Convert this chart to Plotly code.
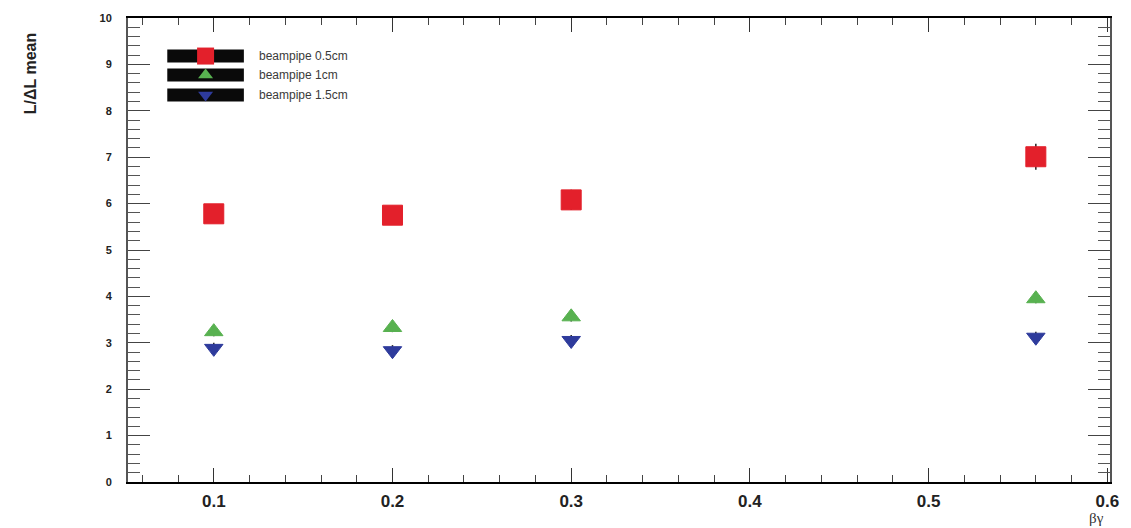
import plotly.graph_objects as go

# Beam-gamma values and L/dL means for the three beampipe radii
bg = [0.1, 0.2, 0.3, 0.56]
mean_05cm = [5.78, 5.75, 6.08, 7.01]
err_05cm = [0.2, 0.2, 0.22, 0.28]
mean_1cm = [3.24, 3.33, 3.56, 3.95]
err_1cm = [0.1, 0.1, 0.1, 0.1]
mean_15cm = [2.88, 2.83, 3.05, 3.12]
err_15cm = [0.12, 0.12, 0.12, 0.12]

series_names = ["beampipe 0.5cm", "beampipe 1cm", "beampipe 1.5cm"]
series_colors = ["#e3202b", "#58b150", "#2e3b9c"]
series_symbols = ["square", "triangle-up", "triangle-down"]
series_sizes = [20, 16, 16]

x_ticks = [0.1, 0.2, 0.3, 0.4, 0.5, 0.6]
y_ticks = list(range(0, 11))

W, H = 1131, 528
ML, MR, MT, MB = 128, 13, 13, 46
PW, PH = W - ML - MR, H - MT - MB

fig = go.Figure()

for name, ys, es, col, sym, sz in zip(
    series_names,
    [mean_05cm, mean_1cm, mean_15cm],
    [err_05cm, err_1cm, err_15cm],
    series_colors, series_symbols, series_sizes,
):
    fig.add_trace(go.Scatter(
        x=bg, y=ys, mode="markers", name=name,
        error_y=dict(type="data", array=es, color="#222222", thickness=1.5, width=0),
        marker=dict(symbol=sym, size=sz, color=col,
                    line=dict(color=col, width=1)),
        showlegend=False,
    ))

# Hand-built legend box in the upper left of the frame
leg_x0, leg_x1 = 0.040, 0.118
leg_rows = [0.918, 0.877, 0.834]
for name, col, sym, sz, yc in zip(series_names, series_colors, series_symbols,
                                   series_sizes, leg_rows):
    fig.add_shape(type="rect", xref="x domain", yref="y domain",
                  x0=leg_x0, x1=leg_x1, y0=yc - 0.014, y1=yc + 0.014,
                  fillcolor="#0a0a0a", line=dict(width=0), layer="below")
    fig.add_trace(go.Scatter(
        x=[(leg_x0 + leg_x1) / 2], y=[yc], xaxis="x2", yaxis="y2",
        mode="markers", showlegend=False, hoverinfo="skip",
        marker=dict(symbol=sym, size=sz - 3, color=col, line=dict(width=0)),
    ))
    fig.add_annotation(xref="x domain", yref="y domain", x=leg_x1 + 0.013, y=yc,
                       text=name, showarrow=False, xanchor="left", yanchor="middle",
                       font=dict(family="Liberation Sans, Arial", size=12, color="#3a3a3a"))

axis_font = dict(family="Liberation Sans, Arial", color="#222222")

fig.update_layout(
    width=W, height=H,
    margin=dict(l=ML, r=MR, t=MT, b=MB),
    paper_bgcolor="white", plot_bgcolor="white",
    xaxis=dict(
        range=[0.052, 0.6015], tickvals=x_ticks,
        ticktext=[f"<b>{v:.1f}</b>" for v in x_ticks],
        tickfont=dict(size=17, **axis_font),
        ticks="inside", ticklen=14, tickwidth=1.3, tickcolor="#333333",
        minor=dict(dtick=0.02, tick0=0, ticks="inside", ticklen=7,
                   tickwidth=1, tickcolor="#444444"),
        showline=True, linecolor="black", linewidth=2, mirror="allticks",
        showgrid=False, zeroline=False, ticklabelstandoff=3,
    ),
    yaxis=dict(
        range=[0, 10], tickvals=y_ticks,
        ticktext=[f"<b>{v}</b>" for v in y_ticks],
        tickfont=dict(size=11, **axis_font),
        ticks="inside", ticklen=22, tickwidth=1.3, tickcolor="#444444",
        minor=dict(dtick=0.2, tick0=0, ticks="inside", ticklen=12,
                   tickwidth=1, tickcolor="#555555"),
        showline=True, linecolor="#555555", linewidth=2, mirror="allticks",
        showgrid=False, zeroline=False, ticklabelstandoff=12,
    ),
    xaxis2=dict(overlaying="x", range=[0, 1], visible=False),
    yaxis2=dict(overlaying="y", range=[0, 1], visible=False),
    showlegend=False,
)

# Axis titles placed at the far ends of the axes (paper coords are plot-area relative)
fig.add_annotation(xref="paper", yref="paper", x=(30 - ML) / PW, y=1 - (26 - MT) / PH,
                   text="<b>L/ΔL mean</b>", textangle=-90, showarrow=False,
                   xanchor="center", yanchor="top",
                   font=dict(family="Liberation Sans, Arial", size=16, color="#222222"))
fig.add_annotation(xref="paper", yref="paper", x=(1104 - ML) / PW, y=-(518 - MT - PH) / PH,
                   text="βγ", showarrow=False, xanchor="center", yanchor="middle",
                   font=dict(family="Liberation Serif, Times New Roman", size=15, color="#333333"))

fig.write_html("out.html")
